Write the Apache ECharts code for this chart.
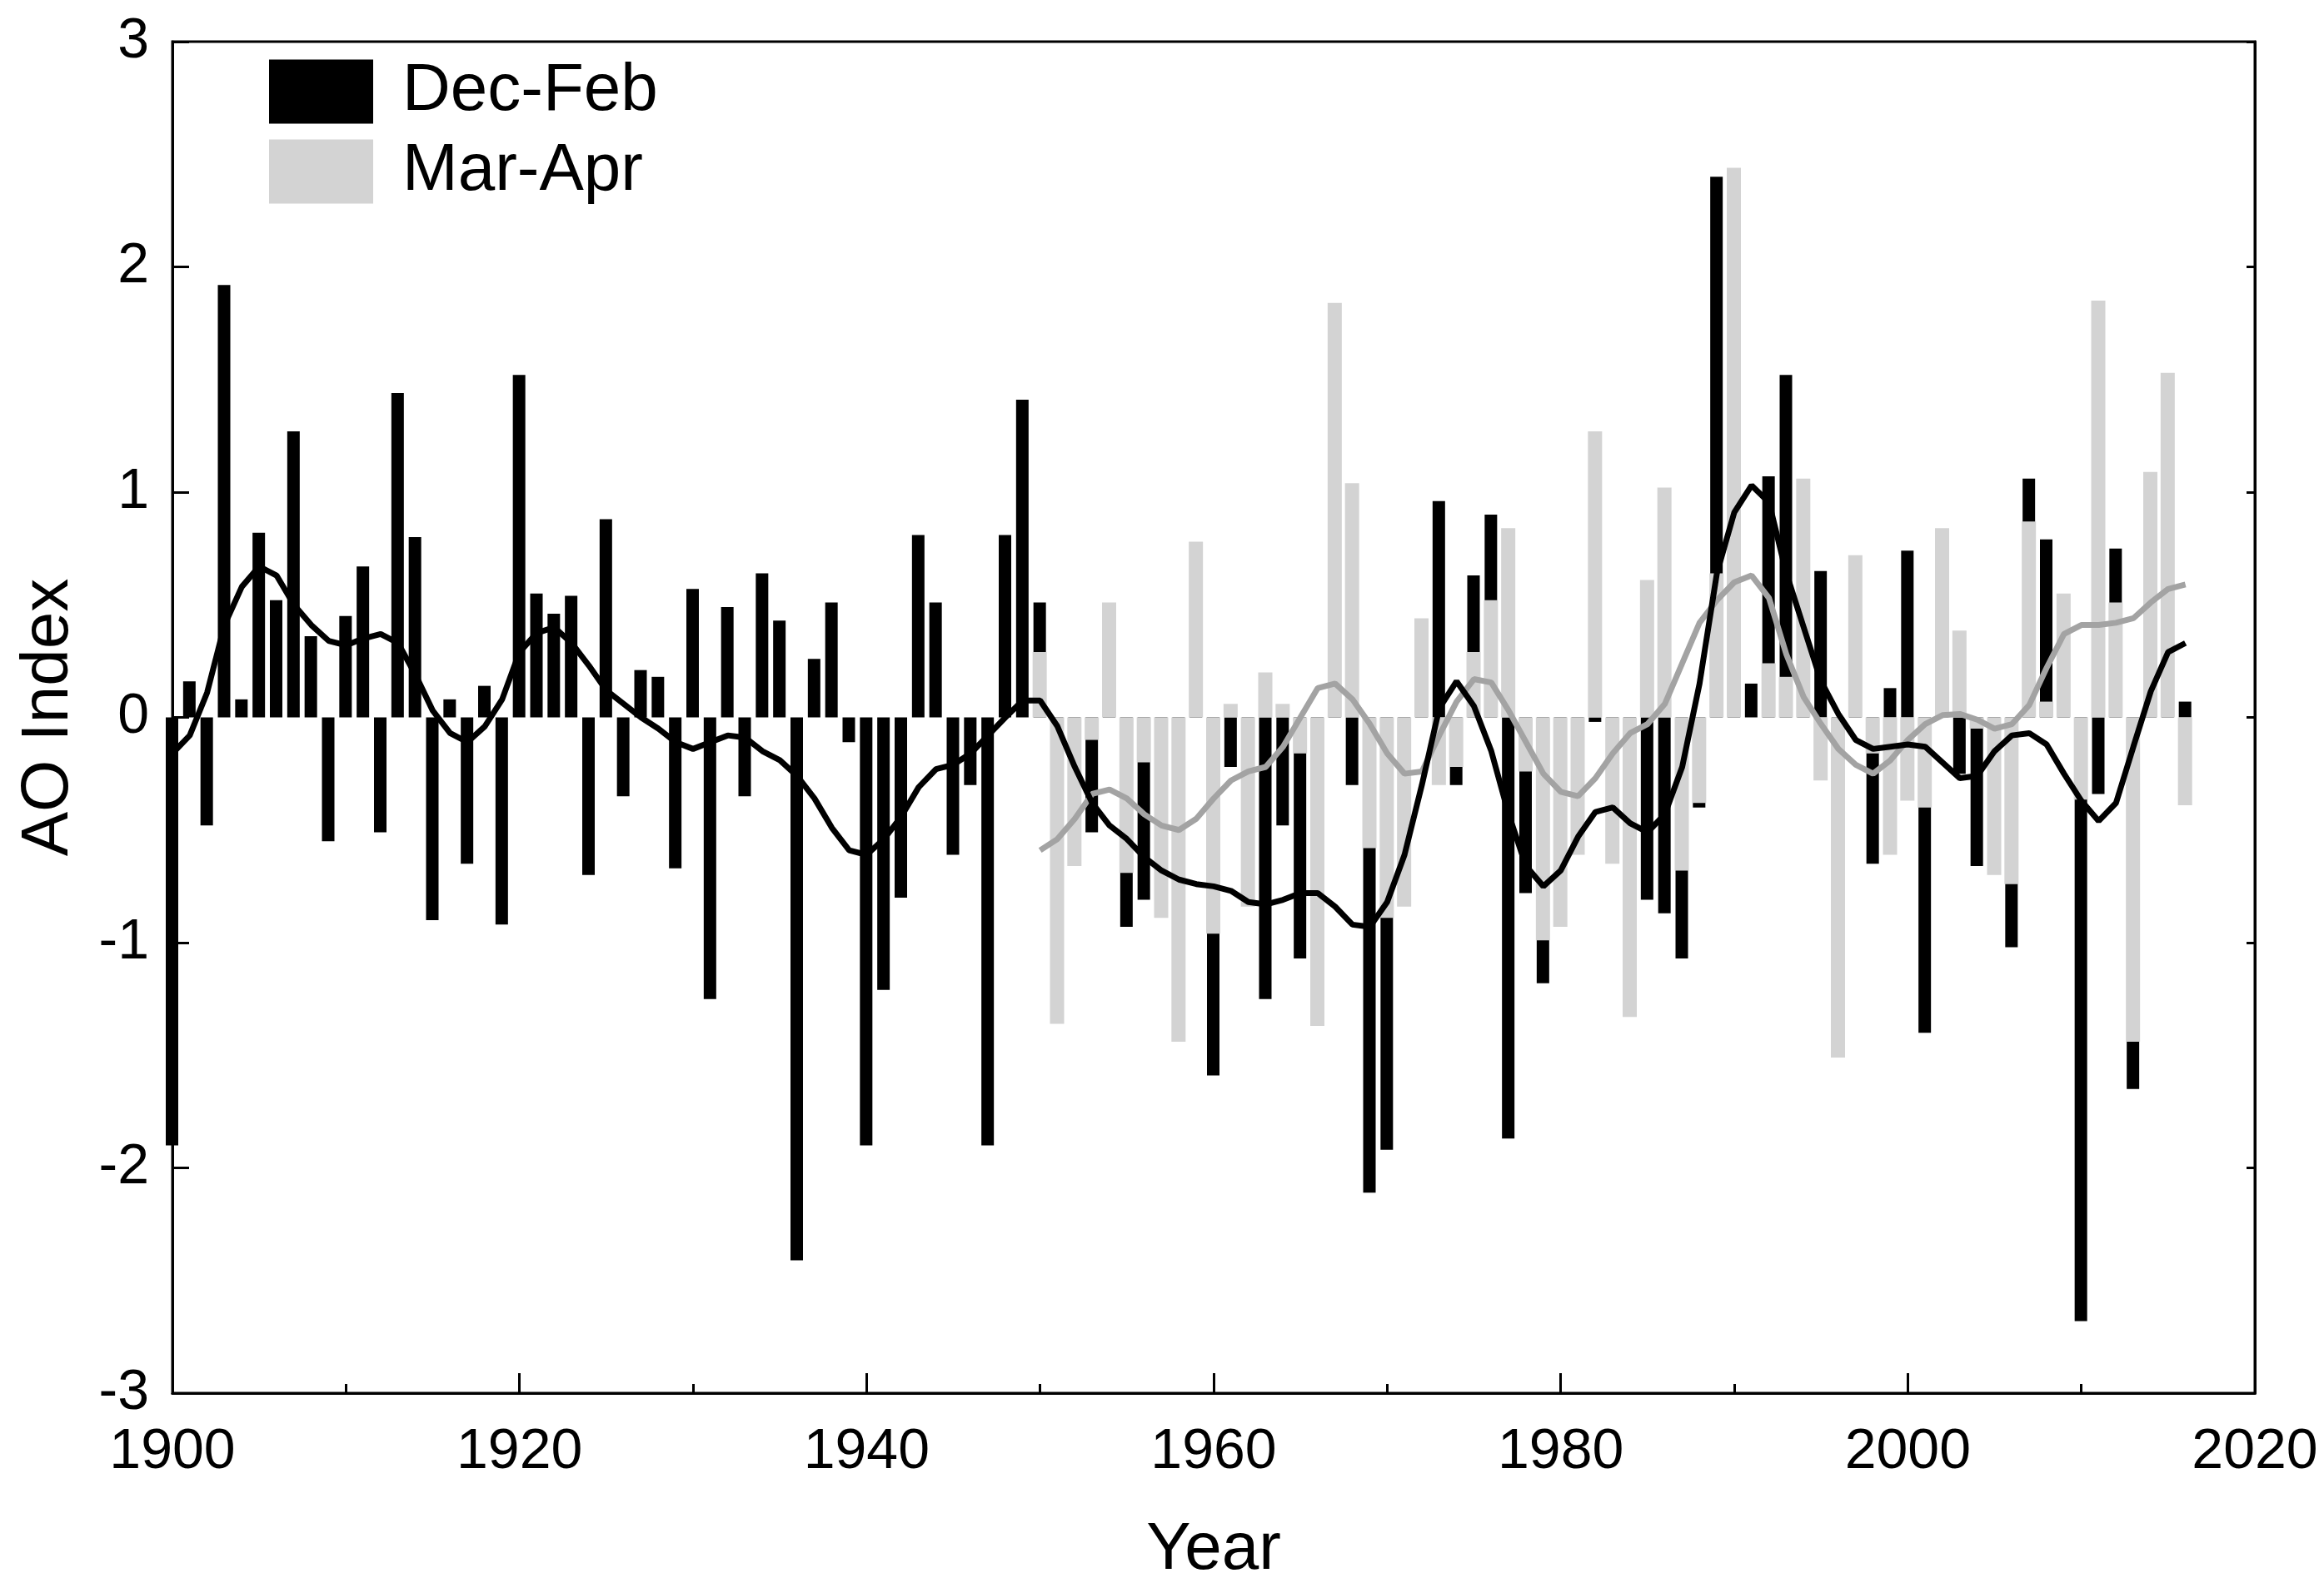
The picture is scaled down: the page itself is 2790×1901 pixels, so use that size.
<!DOCTYPE html>
<html>
<head>
<meta charset="utf-8">
<title>AO Index</title>
<script src="https://cdn.jsdelivr.net/npm/echarts@6.0.0/dist/echarts.min.js"></script>
<style>
  html, body { margin: 0; padding: 0; background: #fff; }
  #chart { width: 2790px; height: 1901px; }
</style>
</head>
<body>
<div id="chart"></div>
<script>
// years of the Dec-Feb record
var firstYear = 1900;
// Dec-Feb AO index, 1900-2016
var decFeb = [
  -1.90, 0.16, -0.48, 1.92, 0.08, 0.82, 0.52, 1.27, 0.36, -0.55,
  0.45, 0.67, -0.51, 1.44, 0.80, -0.90, 0.08, -0.65, 0.14, -0.92,
  1.52, 0.55, 0.46, 0.54, -0.70, 0.88, -0.35, 0.21, 0.18, -0.67,
  0.57, -1.25, 0.49, -0.35, 0.64, 0.43, -2.41, 0.26, 0.51, -0.11,
  -1.90, -1.21, -0.80, 0.81, 0.51, -0.61, -0.30, -1.90, 0.81, 1.41,
  0.51, -0.50, -0.40, -0.51, 0.20, -0.93, -0.81, -0.60, -0.90, 0.30,
  -1.59, -0.22, -0.50, -1.25, -0.48, -1.07, -1.00, 0.50, -0.30, -2.11,
  -1.92, -0.60, 0.20, 0.96, -0.30, 0.63, 0.90, -1.87, -0.78, -1.18,
  -0.70, -0.40, -0.02, -0.30, -0.70, -0.81, -0.87, -1.07, -0.40, 2.40,
  2.20, 0.15, 1.07, 1.52, 0.50, 0.65, -1.10, 0.30, -0.65, 0.13,
  0.74, -1.40, 0.50, -0.25, -0.66, -0.50, -1.02, 1.06, 0.79, 0.10,
  -2.68, -0.34, 0.75, -1.65, 0.20, 1.20, 0.07
];
// smoothed Dec-Feb, 1900-2016
var decFebSmooth = [
  -0.16, -0.08, 0.11, 0.41, 0.58, 0.67, 0.63, 0.50, 0.41, 0.34,
  0.32, 0.35, 0.37, 0.33, 0.19, 0.03, -0.07, -0.11, -0.04, 0.08,
  0.29, 0.375, 0.40, 0.33, 0.23, 0.12, 0.06, 0.00, -0.05, -0.11,
  -0.14, -0.11, -0.08, -0.09, -0.15, -0.19, -0.26, -0.36, -0.49, -0.59,
  -0.61, -0.54, -0.44, -0.31, -0.23, -0.21, -0.16, -0.08, 0.00, 0.075,
  0.075, -0.04, -0.22, -0.38, -0.48, -0.54, -0.62, -0.68, -0.72, -0.74,
  -0.75, -0.77, -0.82, -0.83, -0.81, -0.78, -0.78, -0.84, -0.92, -0.93,
  -0.82, -0.61, -0.30, 0.04, 0.16, 0.05, -0.15, -0.43, -0.66, -0.75,
  -0.68, -0.53, -0.42, -0.40, -0.47, -0.51, -0.43, -0.22, 0.15, 0.64,
  0.91, 1.03, 0.955, 0.64, 0.40, 0.16, 0.015, -0.10, -0.14, -0.13,
  -0.12, -0.13, -0.20, -0.27, -0.26, -0.15, -0.08, -0.07, -0.12, -0.25,
  -0.37, -0.46, -0.38, -0.13, 0.115, 0.29, 0.33
];
// Mar-Apr record starts later
var marAprStart = 1950;
// Mar-Apr AO index, 1950-2016
var marApr = [
  0.29, -1.36, -0.66, -0.10, 0.51, -0.69, -0.20, -0.89, -1.44, 0.78,
  -0.96, 0.06, -0.84, 0.20, 0.06, -0.16, -1.37, 1.84, 1.04, -0.58,
  -0.89, -0.84, 0.44, -0.30, -0.22, 0.29, 0.52, 0.84, -0.24, -0.99,
  -0.93, -0.61, 1.27, -0.65, -1.33, 0.61, 1.02, -0.68, -0.38, 0.64,
  2.44, 0.00, 0.24, 0.18, 1.06, -0.28, -1.51, 0.72, -0.16, -0.61,
  -0.37, -0.40, 0.84, 0.385, -0.05, -0.70, -0.74, 0.87, 0.07, 0.55,
  -0.365, 1.85, 0.51, -1.44, 1.09, 1.53, -0.39
];
// smoothed Mar-Apr, 1950-2016
var marAprSmooth = [
  -0.59, -0.54, -0.45, -0.34, -0.32, -0.36, -0.43, -0.48, -0.50, -0.45,
  -0.36, -0.28, -0.24, -0.22, -0.13, 0.00, 0.13, 0.15, 0.08, -0.03,
  -0.16, -0.25, -0.24, -0.08, 0.07, 0.17, 0.155, 0.03, -0.11, -0.25,
  -0.33, -0.35, -0.27, -0.16, -0.07, -0.03, 0.06, 0.24, 0.42, 0.52,
  0.60, 0.63, 0.53, 0.28, 0.09, -0.03, -0.14, -0.21, -0.25, -0.19,
  -0.10, -0.03, 0.01, 0.015, -0.01, -0.05, -0.03, 0.055, 0.22, 0.37,
  0.41, 0.41, 0.42, 0.44, 0.51, 0.57, 0.59
];

function pairs(start, values) {
  var out = [];
  for (var i = 0; i < values.length; i++) {
    out.push([start + i, values[i]]);
  }
  return out;
}

var font = 'Liberation Sans, Arial, Helvetica, sans-serif';

// grey bars a touch wider than the black ones so no black edge shows through;
// the gap below keeps both centred on the same year
var blackBarW = 15;
var greyBarW = 17;
var barGap = (-(blackBarW + greyBarW) / (2 * blackBarW) * 100).toFixed(4) + '%';

var chart = echarts.init(document.getElementById('chart'));

var option = {
  animation: false,
  backgroundColor: '#fff',
  grid: {
    left: 207, right: 83, top: 50, bottom: 228,
    show: true, borderColor: '#000', borderWidth: 3,
    containLabel: false,
    outerBoundsMode: 'none'
  },
  legend: {
    data: ['Dec-Feb', 'Mar-Apr'],
    orient: 'vertical',
    left: 323,
    top: 70,
    padding: 0,
    itemWidth: 125,
    itemHeight: 77,
    itemGap: 16,
    icon: 'rect',
    selectedMode: false,
    textStyle: {
      fontFamily: font, fontSize: 80, color: '#000',
      padding: [0, 0, 0, 30]
    }
  },
  xAxis: {
    type: 'value',
    min: 1900, max: 2020, interval: 20,
    name: 'Year',
    nameLocation: 'middle',
    nameGap: 149,
    nameTextStyle: { fontFamily: font, fontSize: 80, color: '#000' },
    axisLine: { show: true, onZero: false, lineStyle: { color: '#000', width: 3 } },
    axisTick: { show: true, inside: true, length: 24, lineStyle: { color: '#000', width: 3 } },
    minorTick: { show: true, splitNumber: 2, length: 11, lineStyle: { color: '#000', width: 3 } },
    axisLabel: {
      fontFamily: font, fontSize: 68, color: '#000', margin: 37,
      formatter: function (v) { return String(v); }
    },
    splitLine: { show: false },
    minorSplitLine: { show: false }
  },
  yAxis: [{
    type: 'value',
    min: -3, max: 3, interval: 1,
    name: 'AO Index',
    nameLocation: 'middle',
    nameGap: 108,
    nameRotate: 90,
    nameTextStyle: { fontFamily: font, fontSize: 80, color: '#000' },
    axisLine: { show: true, onZero: false, lineStyle: { color: '#000', width: 3 } },
    axisTick: { show: true, inside: true, length: 20, lineStyle: { color: '#000', width: 3 } },
    axisLabel: { fontFamily: font, fontSize: 68, color: '#000', margin: 28 },
    splitLine: { show: false }
  }, {
    type: 'value',
    position: 'right',
    min: -3, max: 3, interval: 1,
    axisLine: { show: true, onZero: false, lineStyle: { color: '#000', width: 3 } },
    axisTick: { show: true, inside: true, length: 10, lineStyle: { color: '#000', width: 3 } },
    axisLabel: { show: false },
    splitLine: { show: false }
  }],
  series: [
    {
      name: 'Dec-Feb',
      type: 'bar',
      data: pairs(firstYear, decFeb),
      barWidth: blackBarW,
      barGap: barGap,
      itemStyle: { color: '#000' }
    },
    {
      name: 'Mar-Apr',
      type: 'bar',
      data: pairs(marAprStart, marApr),
      barWidth: greyBarW,
      barGap: barGap,
      itemStyle: { color: '#d3d3d3' }
    },
    {
      name: 'Mar-Apr smooth',
      type: 'line',
      data: pairs(marAprStart, marAprSmooth),
      symbol: 'none',
      lineStyle: { color: '#a3a3a3', width: 7 }
    },
    {
      name: 'Dec-Feb smooth',
      type: 'line',
      data: pairs(firstYear, decFebSmooth),
      symbol: 'none',
      lineStyle: { color: '#000', width: 7 }
    }
  ]
};

chart.setOption(option);
</script>
</body>
</html>
